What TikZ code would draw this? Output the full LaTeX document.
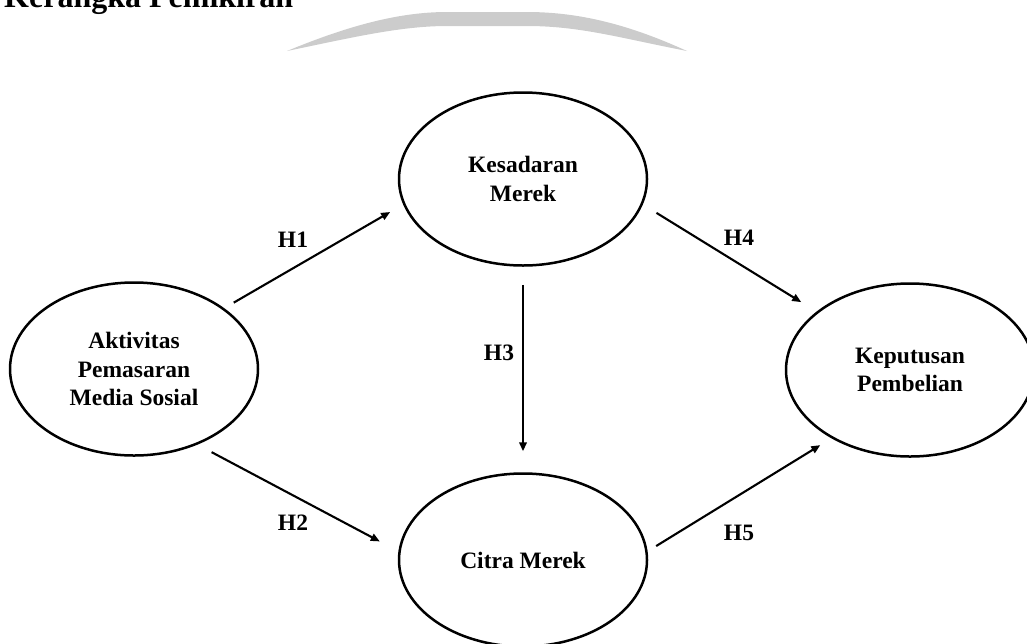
\documentclass[tikz,border=0pt]{standalone}
\usepackage{fontspec}
\setmainfont{Liberation Serif}
\usetikzlibrary{shapes.geometric,arrows.meta}
\begin{document}
\begin{tikzpicture}[x=1pt, y=-1pt, font=\bfseries\fontsize{23.5}{28.5}\selectfont, line join=round, >={Triangle[length=9pt,width=7.5pt]},
    variabel/.style={ellipse, draw, line width=2.5pt, inner sep=0pt, align=center, minimum width=248pt, minimum height=173pt},
    panah/.style={->, line width=2.1pt}]
    \useasboundingbox (0,0) rectangle (1027,643);
    % sisa watermark
    \fill[gray!40] (287,51) .. controls (350,25) and (400,12) .. (447,12) -- (527,12) .. controls (580,12) and (630,25) .. (687,51)
        .. controls (620,38) and (580,26) .. (527,26) -- (447,26) .. controls (400,26) and (350,38) .. (287,51) -- cycle;
    \node[anchor=base west, inner sep=0pt, font=\bfseries\fontsize{32}{36}\selectfont] (judul) at (4,7) {Kerangka Pemikiran};
    % variabel
    \node[variabel] (akt) at (134,369) {Aktivitas\\Pemasaran\\Media Sosial};
    \node[variabel] (kes) at (523,179) {Kesadaran\\Merek};
    \node[variabel] (cit) at (523,560) {Citra Merek};
    \node[variabel] (kep) at (910,370) {Keputusan\\Pembelian};
    % hipotesis
    \draw[panah, shorten <=11pt, shorten >=15pt] (akt.34) -- (kes.192);
    \draw[panah, shorten <=16pt, shorten >=21pt] (akt.-50) -- (cit.176);
    \draw[panah, shorten <=18pt, shorten >=21pt] (kes.south) -- (cit.north);
    \draw[panah, shorten <=16pt, shorten >=18pt] (kes.-12) -- (kep.148);
    \draw[panah, shorten <=10pt, shorten >=13pt] (cit.4) -- (kep.221);
    \node (h1) at (293,240) {H1};
    \node (h2) at (293,523) {H2};
    \node (h3) at (499,353) {H3};
    \node (h4) at (739,238) {H4};
    \node (h5) at (739,533) {H5};
\end{tikzpicture}
\end{document}
